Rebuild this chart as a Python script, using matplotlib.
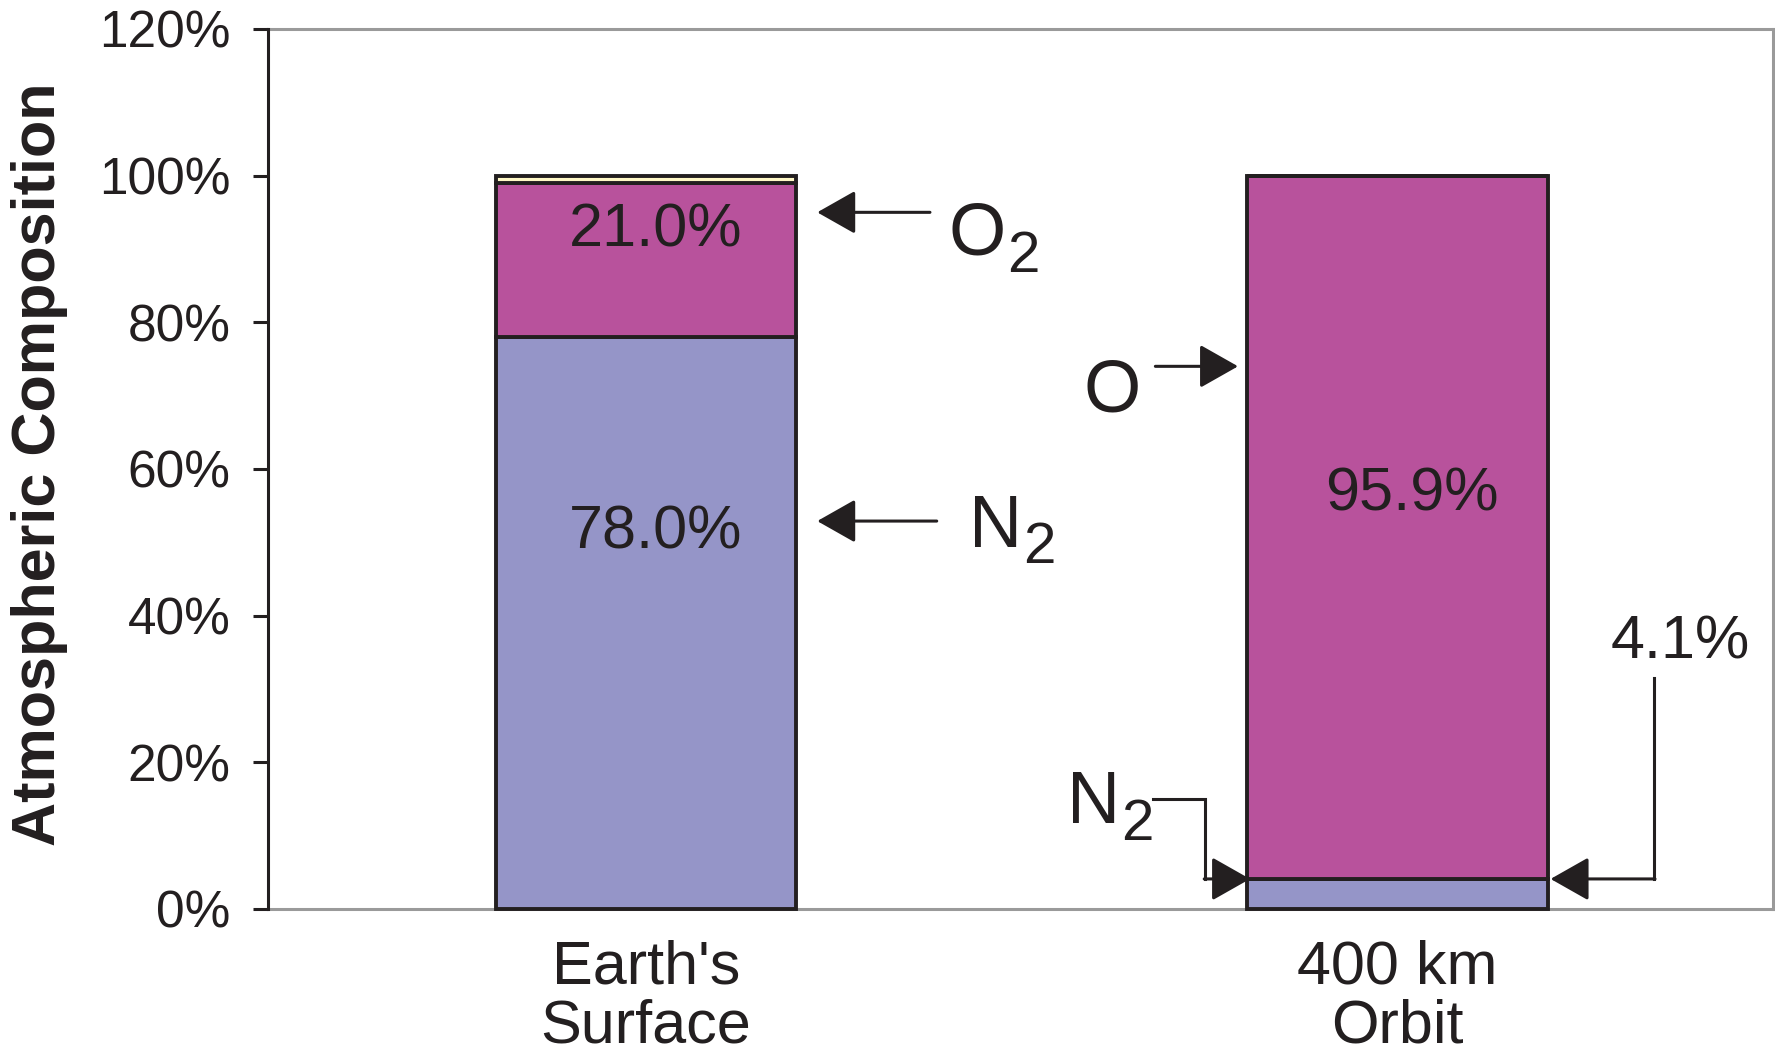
import numpy as np
import matplotlib
matplotlib.use("Agg")
import matplotlib.pyplot as plt
from matplotlib.transforms import offset_copy

NARROW = ["Liberation Sans Narrow", "Liberation Sans", "DejaVu Sans"]
REG = ["Liberation Sans", "DejaVu Sans"]

categories = ["Earth's\nSurface", "400 km\nOrbit"]
n2 = [78.0, 4.1]
o_ox = [21.0, 95.9]          # O2 at surface, atomic O at orbit
other = [1.0, 0.0]
yticks = [0, 20, 40, 60, 80, 100, 120]

C_N2 = "#9595C8"
C_O = "#B8529C"
C_OTHER = "#FFF8C6"
INK = "#231F20"
GREY = "#9A9A9A"

fig = plt.figure(figsize=(17.75, 10.62), dpi=100)
ax = fig.add_axes([268 / 1775, 153 / 1062, 1505 / 1775, 880 / 1062])

x = np.arange(len(categories))
bottom = np.zeros(len(categories))
for vals, col in [(n2, C_N2), (o_ox, C_O), (other, C_OTHER)]:
    ax.bar(x, vals, width=0.4, bottom=bottom, color=col, edgecolor=INK,
           linewidth=2.8, zorder=3, clip_on=False)
    bottom += np.array(vals)

ax.set_xlim(-0.503, 1.5)
ax.set_ylim(0, 120)
ax.set_yticks(yticks)
ax.set_yticklabels([f"{v}%" for v in yticks], fontsize=37, family=NARROW, color=INK)
ax.set_xticks(x)
ax.set_xticklabels(categories, fontsize=44, family=NARROW, color=INK, linespacing=1.05)
ax.tick_params(axis="x", length=0, pad=22)
ax.tick_params(axis="y", length=11, width=2.2, color=INK, pad=16)

for s in ["top", "right", "bottom"]:
    ax.spines[s].set_color(GREY)
    ax.spines[s].set_linewidth(2.2)
ax.spines["left"].set_color(INK)
ax.spines["left"].set_linewidth(2.2)
ax.spines["left"].set_zorder(4)

fig.text(40 / 1775, 1 - 464 / 1062, "Atmospheric Composition", rotation=90,
         ha="center", va="center", fontsize=44, fontweight="bold", family=REG, color=INK)

# values inside / beside bars
val = dict(ha="center", va="baseline", fontsize=44, family=NARROW, color=INK, zorder=5)
ax.text(0.013, 90.3, f"{o_ox[0]:.1f}%", **val)
ax.text(0.013, 49.1, f"{n2[0]:.1f}%", **val)
ax.text(1.02, 54.4, f"{o_ox[1]:.1f}%", **val)
ax.text(1.377, 34.2, f"{n2[1]:.1f}%", **val)

# species labels (subscript drawn as its own text, larger and lower than mathtext)
lab = dict(fontsize=53, family=REG, color=INK, va="baseline", ha="left", zorder=5)
sub = dict(fontsize=42, family=REG, color=INK, va="baseline", ha="left", zorder=5)

def species(xx, yy, main, dx_pt=None):
    ax.text(xx, yy, main, **lab)
    if dx_pt is not None:
        tr = offset_copy(ax.transData, fig=fig, x=dx_pt, y=-12, units="points")
        ax.text(xx, yy, "2", transform=tr, **sub)

species(0.403, 89.2, "O", 42)
species(0.430, 49.4, "N", 39)
species(0.582, 67.8, "O")
species(0.560, 11.7, "N", 39)

aprops = dict(arrowstyle="-|>,head_length=0.6,head_width=0.34", mutation_scale=40,
              lw=2.2, color=INK, shrinkA=0, shrinkB=0)

def arrow(x0, y0, x1, y1):
    ax.annotate("", xy=(x1, y1), xytext=(x0, y0), arrowprops=aprops, zorder=5)

arrow(0.378, 95.0, 0.228, 95.0)
arrow(0.387, 52.9, 0.228, 52.9)
arrow(0.678, 74.0, 0.788, 74.0)

# elbow leaders to the thin N2 layer at orbit
ax.plot([0.675, 0.744, 0.744], [15.0, 15.0, n2[1]], color=INK, lw=2.2, zorder=5,
        solid_joinstyle="miter")
arrow(0.743, n2[1], 0.804, n2[1])
ax.plot([1.342, 1.342], [31.5, n2[1]], color=INK, lw=2.2, zorder=5)
arrow(1.343, n2[1], 1.204, n2[1])

fig.savefig("out.png", dpi=100)
